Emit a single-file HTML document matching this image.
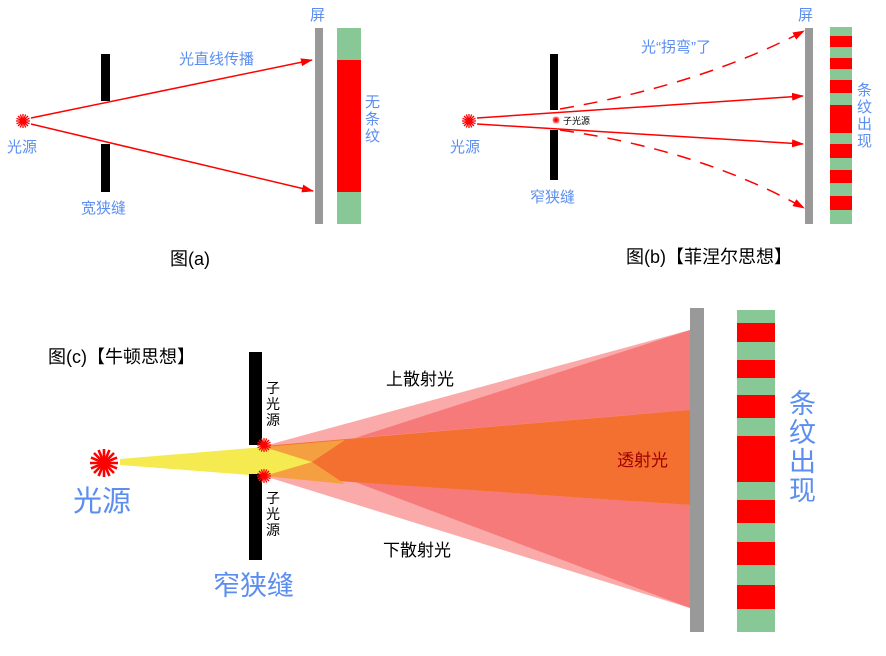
<!DOCTYPE html>
<html><head><meta charset="utf-8"><style>
html,body{margin:0;padding:0;background:#fff;}
svg text{font-family:"Liberation Sans","Noto Sans CJK SC",sans-serif;}
</style></head><body>
<svg width="886" height="651" viewBox="0 0 886 651" xmlns="http://www.w3.org/2000/svg">
<defs>
<marker id="ah" markerWidth="12" markerHeight="8" refX="11" refY="4" orient="auto" markerUnits="userSpaceOnUse">
<path d="M0,0 L12,4 L0,8 Z" fill="#f00"/></marker>
<g id="star" stroke="#f00" stroke-width="1.3">
<line x1="-7" y1="0" x2="7" y2="0"/><line x1="0" y1="-7" x2="0" y2="7"/>
<line x1="-5" y1="-5" x2="5" y2="5"/><line x1="-5" y1="5" x2="5" y2="-5"/>
<line x1="-6.5" y1="-2.7" x2="6.5" y2="2.7"/><line x1="-6.5" y1="2.7" x2="6.5" y2="-2.7"/>
<line x1="-2.7" y1="-6.5" x2="2.7" y2="6.5"/><line x1="-2.7" y1="6.5" x2="2.7" y2="-6.5"/>
</g>
</defs>

<!-- (a) -->
<rect x="101" y="54" width="9" height="47" fill="#000"/>
<rect x="101" y="144" width="9" height="48" fill="#000"/>
<rect x="315" y="28" width="8" height="196" fill="#999"/>
<rect x="337" y="28" width="24" height="32" fill="#88c897"/>
<rect x="337" y="60" width="24" height="132" fill="#f00"/>
<rect x="337" y="192" width="24" height="32" fill="#88c897"/>
<use href="#star" x="23" y="121"/>
<line x1="31" y1="118" x2="312" y2="60" stroke="#f00" stroke-width="1.5" marker-end="url(#ah)"/>
<line x1="31" y1="124" x2="313" y2="191" stroke="#f00" stroke-width="1.5" marker-end="url(#ah)"/>
<g fill="#5b8ef0" font-size="15">
<text x="7" y="152">光源</text>
<text x="81" y="213">宽狭缝</text>
<text x="179" y="64">光直线传播</text>
<text x="310" y="20">屏</text>
<text x="365" y="107">无</text><text x="365" y="124">条</text><text x="365" y="141">纹</text>
</g>
<text x="170" y="265" font-size="18" fill="#000">图(a)</text>

<!-- (b) -->
<rect x="550" y="54" width="8" height="56" fill="#000"/>
<rect x="550" y="130" width="8" height="50" fill="#000"/>
<rect x="805" y="28" width="8" height="196" fill="#999"/>
<g>
<rect x="830" y="27" width="22" height="197" fill="#88c897"/>
<rect x="830" y="36" width="22" height="11" fill="#f00"/>
<rect x="830" y="58" width="22" height="11" fill="#f00"/>
<rect x="830" y="80" width="22" height="13" fill="#f00"/>
<rect x="830" y="105" width="22" height="28" fill="#f00"/>
<rect x="830" y="144" width="22" height="14" fill="#f00"/>
<rect x="830" y="170" width="22" height="13" fill="#f00"/>
<rect x="830" y="196" width="22" height="14" fill="#f00"/>
</g>
<use href="#star" x="469" y="121"/>
<line x1="477" y1="118" x2="803" y2="96" stroke="#f00" stroke-width="1.5" marker-end="url(#ah)"/>
<line x1="477" y1="124" x2="803" y2="144" stroke="#f00" stroke-width="1.5" marker-end="url(#ah)"/>
<path d="M560,109 Q700,85 804,31" fill="none" stroke="#f00" stroke-width="1.5" stroke-dasharray="14,10" marker-end="url(#ah)"/>
<path d="M560,130 Q700,150 804,208" fill="none" stroke="#f00" stroke-width="1.5" stroke-dasharray="14,10" marker-end="url(#ah)"/>
<g transform="translate(556,120) scale(0.5)"><use href="#star"/></g>
<text x="563" y="124" font-size="9" fill="#000">子光源</text>
<g fill="#5b8ef0" font-size="15">
<text x="450" y="152">光源</text>
<text x="530" y="202">窄狭缝</text>
<text x="641" y="52">光“拐弯”了</text>
<text x="798" y="20">屏</text>
<text x="857" y="95">条</text><text x="857" y="112">纹</text><text x="857" y="129">出</text><text x="857" y="146">现</text>
</g>
<text x="626" y="263" font-size="18" fill="#000">图(b)【菲涅尔思想】</text>

<!-- (c) -->
<polygon points="264,446 690,330 690,410 264,476" fill="#fbaaaa"/>
<polygon points="264,446 690,505 690,608 264,476" fill="#fbaaaa"/>
<polygon points="355,438 690,330 690,410" fill="#f77a7a"/>
<polygon points="355,482 690,505 690,608" fill="#f77a7a"/>
<polygon points="264,446 690,410 690,505 264,476" fill="#f47030"/>
<polygon points="264,447 345,440 312,462 345,484 264,476" fill="#f5a040"/>
<polygon points="120,459 264,447 312,462 264,476 120,465" fill="#f5ea50"/>
<rect x="249" y="352" width="13" height="93" fill="#000"/>
<rect x="249" y="474" width="13" height="86" fill="#000"/>
<rect x="690" y="308" width="14" height="324" fill="#999"/>
<g>
<rect x="737" y="310" width="38" height="322" fill="#88c897"/>
<rect x="737" y="323" width="38" height="19" fill="#f00"/>
<rect x="737" y="360" width="38" height="18" fill="#f00"/>
<rect x="737" y="395" width="38" height="23" fill="#f00"/>
<rect x="737" y="436" width="38" height="46" fill="#f00"/>
<rect x="737" y="500" width="38" height="23" fill="#f00"/>
<rect x="737" y="542" width="38" height="23" fill="#f00"/>
<rect x="737" y="585" width="38" height="24" fill="#f00"/>
</g>
<g transform="translate(104,463) scale(2)"><use href="#star"/></g>
<use href="#star" x="264" y="445"/>
<use href="#star" x="264" y="476"/>
<text x="48" y="363" font-size="18" fill="#000">图(c)【牛顿思想】</text>
<g font-size="14" fill="#000">
<text x="266" y="393">子</text><text x="266" y="409">光</text><text x="266" y="425">源</text>
<text x="266" y="503">子</text><text x="266" y="519">光</text><text x="266" y="535">源</text>
</g>
<text x="386" y="385" font-size="17" fill="#000">上散射光</text>
<text x="383" y="556" font-size="17" fill="#000">下散射光</text>
<text x="617" y="466" font-size="17" fill="#a00000">透射光</text>
<g fill="#5b8ef0">
<text x="73" y="511" font-size="29">光源</text>
<text x="213" y="595" font-size="27">窄狭缝</text>
<g font-size="27"><text x="789" y="413">条</text><text x="789" y="442">纹</text><text x="789" y="471">出</text><text x="789" y="500">现</text></g>
</g>
</svg>
</body></html>
